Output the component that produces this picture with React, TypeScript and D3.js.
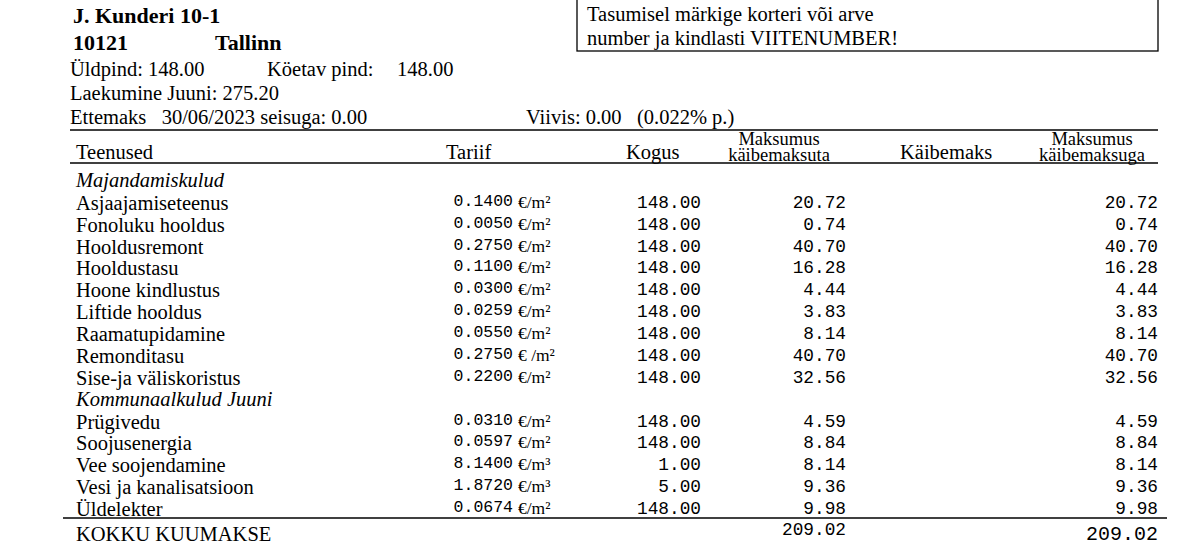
import React from "react";
import { scaleLinear } from "d3";

// address / header info
const addressLine = "J. Kunderi 10-1";
const postCode = "10121";
const city = "Tallinn";
const noticeLines = ["Tasumisel märkige korteri või arve", "number ja kindlasti VIITENUMBER!"];

// table columns
const columns = ["Teenused", "Tariif", "Kogus", "Maksumus|käibemaksuta", "Käibemaks", "Maksumus|käibemaksuga"];

// groups and services
const groupNames = ["Majandamiskulud", "Kommunaalkulud Juuni"];
const services = [
  "Asjaajamiseteenus", "Fonoluku hooldus", "Hooldusremont", "Hooldustasu", "Hoone kindlustus",
  "Liftide hooldus", "Raamatupidamine", "Remonditasu", "Sise-ja väliskoristus",
  "Prügivedu", "Soojusenergia", "Vee soojendamine", "Vesi ja kanalisatsioon", "Üldelekter"
];
const serviceGroup = [0, 0, 0, 0, 0, 0, 0, 0, 0, 1, 1, 1, 1, 1];
const tariffs = ["0.1400", "0.0050", "0.2750", "0.1100", "0.0300", "0.0259", "0.0550", "0.2750", "0.2200",
  "0.0310", "0.0597", "8.1400", "1.8720", "0.0674"];
const units = ["€/m²", "€/m²", "€/m²", "€/m²", "€/m²", "€/m²", "€/m²", "€ /m²", "€/m²",
  "€/m²", "€/m²", "€/m³", "€/m³", "€/m²"];
const quantities = [148, 148, 148, 148, 148, 148, 148, 148, 148, 148, 148, 1, 5, 148];
const costNoVat = [20.72, 0.74, 40.70, 16.28, 4.44, 3.83, 8.14, 40.70, 32.56, 4.59, 8.84, 8.14, 9.36, 9.98];
const costWithVat = [20.72, 0.74, 40.70, 16.28, 4.44, 3.83, 8.14, 40.70, 32.56, 4.59, 8.84, 8.14, 9.36, 9.98];
const totalLabel = "KOKKU KUUMAKSE";
const totalNoVat = 209.02;
const totalWithVat = 209.02;

const serif = "'Liberation Serif', 'Times New Roman', serif";
const mono = "'Liberation Mono', 'Courier New', monospace";

// build display lines: group header, then its services
type Line = { kind: "group"; label: string } | { kind: "row"; idx: number };
const lines: Line[] = [];
groupNames.forEach((g, gi) => {
  lines.push({ kind: "group", label: g });
  services.forEach((_, i) => {
    if (serviceGroup[i] === gi) lines.push({ kind: "row", idx: i });
  });
});

const yScale = scaleLinear().domain([0, lines.length - 1]).range([187, 515]);

export default function App() {
  const fmt = (v: number) => v.toFixed(2);
  const fs = 20.5;
  return (
    <svg width={1182} height={546} style={{ position: "absolute", left: 0, top: 0, background: "#fff" }}>
      <g fontFamily={serif} fill="#000">
        <text x={73} y={23} fontSize={22} fontWeight="bold">{addressLine}</text>
        <text x={73} y={50} fontSize={22} fontWeight="bold">{postCode}</text>
        <text x={215} y={50} fontSize={22} fontWeight="bold">{city}</text>
        <text x={70} y={76} fontSize={fs}>Üldpind: 148.00</text>
        <text x={267} y={76} fontSize={fs}>Köetav pind:</text>
        <text x={397} y={76} fontSize={fs}>148.00</text>
        <text x={70} y={100} fontSize={fs}>Laekumine Juuni: 275.20</text>
        <text x={70} y={124} fontSize={fs} xmlSpace="preserve">Ettemaks   30/06/2023 seisuga: 0.00</text>
        <text x={526} y={124} fontSize={fs} xmlSpace="preserve">Viivis: 0.00   (0.022% p.)</text>

        <rect x={577} y={-5} width={581} height={56} fill="none" stroke="#000" strokeWidth={1.3} />
        {noticeLines.map((t, i) => (
          <text key={t} x={587} y={21 + i * 24} fontSize={fs}>{t}</text>
        ))}

        <line x1={70} x2={1158} y1={130} y2={130} stroke="#000" strokeWidth={1.6} />
        <line x1={70} x2={1158} y1={163} y2={163} stroke="#000" strokeWidth={1.6} />

        {/* column headers */}
        <text x={76} y={159} fontSize={fs}>{columns[0]}</text>
        <text x={446} y={159} fontSize={fs}>{columns[1]}</text>
        <text x={626} y={159} fontSize={fs}>{columns[2]}</text>
        {[columns[3], columns[5]].map((c, i) => {
          const [a, b] = c.split("|");
          const cx = i === 0 ? 779 : 1092;
          return (
            <g key={c} textAnchor="middle" fontSize={18.5}>
              <text x={cx} y={145}>{a}</text>
              <text x={cx} y={161}>{b}</text>
            </g>
          );
        })}
        <text x={900} y={159} fontSize={fs}>{columns[4]}</text>

        {lines.map((l, li) => {
          const y = yScale(li);
          if (l.kind === "group") {
            return <text key={l.label} x={76} y={y} fontSize={fs} fontStyle="italic">{l.label}</text>;
          }
          const i = l.idx;
          return (
            <g key={services[i]}>
              <text x={76} y={y + 1} fontSize={fs}>{services[i]}</text>
              <g fontFamily={mono} textAnchor="end">
                <text x={513} y={y - 3} fontSize={16.5}>{tariffs[i]}</text>
                <text x={701} y={y - 1} fontSize={17.8}>{fmt(quantities[i])}</text>
                <text x={846} y={y - 1} fontSize={17.8}>{fmt(costNoVat[i])}</text>
                <text x={1158} y={y - 1} fontSize={17.8}>{fmt(costWithVat[i])}</text>
              </g>
              <text x={518} y={y - 1} fontSize={17.5} xmlSpace="preserve">{units[i]}</text>
            </g>
          );
        })}

        <line x1={63} x2={1167} y1={518} y2={518} stroke="#000" strokeWidth={1.6} />
        <text x={76} y={541} fontSize={fs}>{totalLabel}</text>
        <text x={846} y={535} fontFamily={mono} fontSize={17.8} textAnchor="end">{fmt(totalNoVat)}</text>
        <text x={1158} y={540} fontFamily={mono} fontSize={20} textAnchor="end">{fmt(totalWithVat)}</text>
      </g>
    </svg>
  );
}
